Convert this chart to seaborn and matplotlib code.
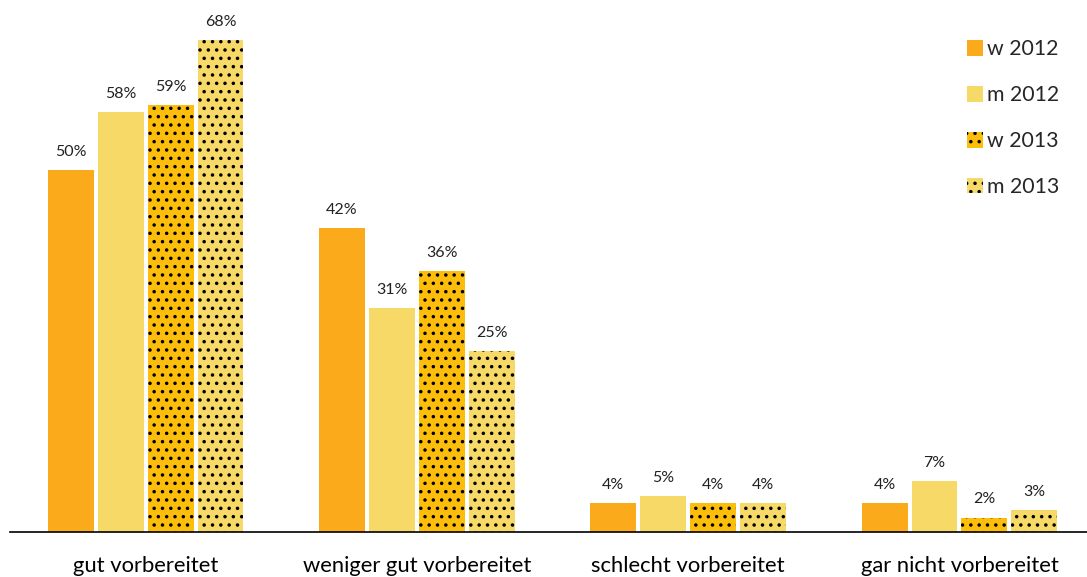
import matplotlib
matplotlib.use("Agg")
import matplotlib.pyplot as plt
import seaborn as sns
import pandas as pd

categories = ["gut vorbereitet", "weniger gut vorbereitet", "schlecht vorbereitet", "gar nicht vorbereitet"]
series_names = ["w 2012", "m 2012", "w 2013", "m 2013"]
w_2012 = [50, 42, 4, 4]
m_2012 = [58, 31, 5, 7]
w_2013 = [59, 36, 4, 2]
m_2013 = [68, 25, 4, 3]

colors = ["#FBAA1B", "#F6D967", "#FDBE0B", "#F6D967"]
hatches = [None, None, "..", ".."]

rows = []
for name, vals in zip(series_names, [w_2012, m_2012, w_2013, m_2013]):
    for cat, v in zip(categories, vals):
        rows.append({"Kategorie": cat, "Gruppe": name, "Anteil": v})
df = pd.DataFrame(rows)

sns.set_theme(style="white")
plt.rcParams["font.family"] = ["Lato", "DejaVu Sans"]
plt.rcParams["hatch.color"] = "black"
plt.rcParams["hatch.linewidth"] = 1.3

fig = plt.figure(figsize=(10.87, 5.77), dpi=100)
ax = fig.add_axes([10 / 1087, 1 - 532 / 577, 1 - 10 / 1087, 532 / 577])

sns.barplot(data=df, x="Kategorie", y="Anteil", hue="Gruppe",
            hue_order=series_names, palette=colors, saturation=1,
            width=0.736, gap=0.08, ax=ax, legend=True)

for cont, hatch in zip(ax.containers, hatches):
    for bar in cont:
        bar.set_linewidth(0)
        if hatch:
            bar.set_edgecolor("black")
            bar.set_hatch(hatch)
    ax.bar_label(cont, fmt="%d%%", padding=8, fontsize=11.5, color="#222222")

ax.set_xlim(-0.5, 3.47)
ax.set_ylim(0, 73.5)
ax.set_xlabel("")
ax.set_ylabel("")
ax.set_yticks([])
ax.tick_params(axis="x", length=0, labelsize=15.8, pad=17.5, colors="black")
for side in ["top", "left", "right"]:
    ax.spines[side].set_visible(False)
ax.spines["bottom"].set_color("black")
ax.spines["bottom"].set_linewidth(1.2)

leg = ax.legend(loc="upper right", bbox_to_anchor=(0.992, 0.962), frameon=False,
                fontsize=15.3, labelspacing=1.22, handlelength=0.75, handleheight=0.75,
                handletextpad=0.2)
for h, hatch in zip(leg.legend_handles, hatches):
    h.set_linewidth(0)
    if hatch:
        h.set_edgecolor("black")
        h.set_hatch(hatch)

fig.savefig("out.png", dpi=100)
